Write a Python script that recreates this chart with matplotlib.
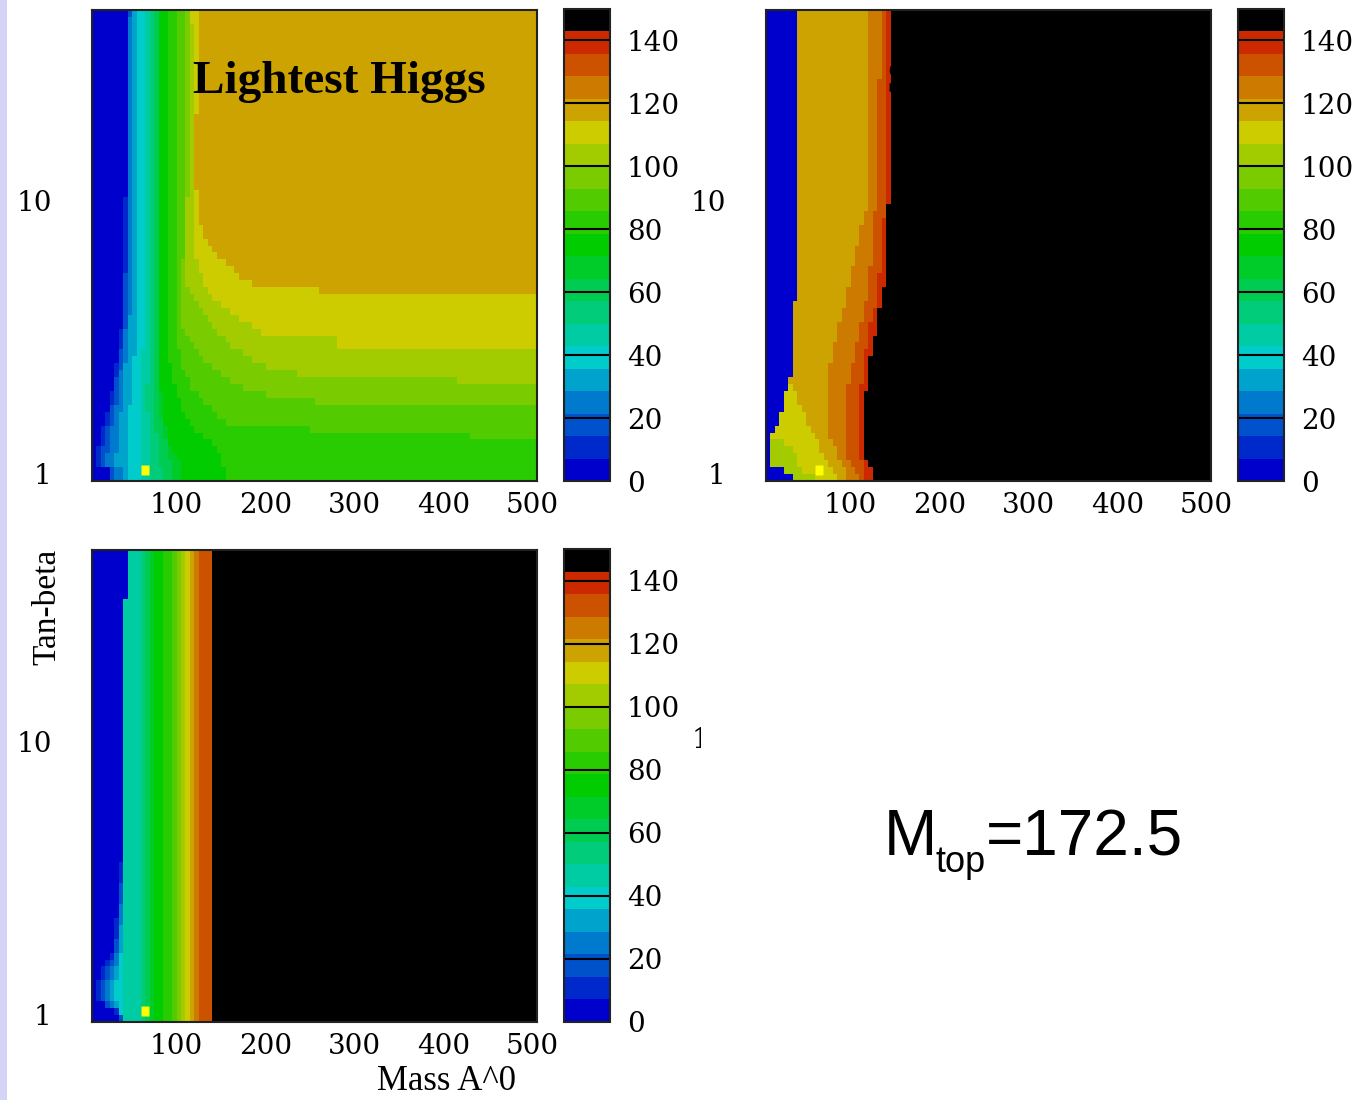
import numpy as np
import matplotlib
matplotlib.use("Agg")
import matplotlib.pyplot as plt
from matplotlib.colors import ListedColormap, BoundaryNorm
from matplotlib.path import Path
from matplotlib.patches import Rectangle
from matplotlib.ticker import NullLocator

plt.rcParams['font.family'] = ['DejaVu Serif']

# ---------------- data ----------------
level_colors = ['#0000cc', '#0029cc', '#0052cc', '#007acc', '#00a3cc', '#00cccc',
                '#00cca3', '#00cc7a', '#00cc52', '#00cc29', '#00cc00', '#29cc00',
                '#52cc00', '#7acc00', '#a3cc00', '#cccc00', '#cca300', '#cc7a00',
                '#cc5200', '#cc2900', '#000000']
mass_min, mass_max = 0.0, 150.0
cbar_ticks = [0, 20, 40, 60, 80, 100, 120, 140]
mA_lo, mA_hi, mA_step = 5, 505, 5
tb_lo, tb_hi, n_tb_rows = 0.94, 50.1, 68
x_ticks = [100, 200, 300, 400, 500]
y_ticks = [1, 10]
marker_mA, marker_tb = 64, 1.034

# boundary of region "mass >= level k" (k = 1, 2, ...), as (mA, tan-beta) points
light_edges = [
    [(45.5, 60), (41.0, 4.34), (35.4, 2.85), (25.3, 1.87), (16.3, 1.41), (9.6, 1.17), (9.6, 1.06), (25.3, 1.02), (25.3, 0.9)],
    [(46.6, 60), (42.1, 4.34), (37.6, 2.85), (28.7, 1.87), (19.7, 1.41), (14.0, 1.06), (27.5, 1.02), (27.5, 0.9)],
    [(47.8, 60), (44.4, 4.34), (41.0, 2.85), (33.1, 1.87), (25.3, 1.41), (19.7, 1.06), (30.9, 1.02), (30.9, 0.9)],
    [(51.1, 60), (48.9, 4.34), (44.4, 2.85), (38.8, 1.87), (34.3, 1.41), (30.9, 1.06), (38.8, 1.02), (38.8, 0.9)],
    [(56.7, 60), (56.7, 4.34), (53.4, 2.85), (47.8, 1.87), (45.5, 1.41), (45.5, 1.06), (47.8, 0.9)],
    [(65.7, 60), (65.7, 4.34), (59.0, 1.87), (60.1, 1.125), (60.1, 0.9)],
    [(70.2, 60), (70.2, 4.34), (66.9, 1.87), (70.2, 1.125), (72.5, 0.9)],
    [(73.6, 60), (74.7, 4.34), (73.6, 1.87), (81.5, 1.125), (87.1, 0.9)],
    [(78.1, 60), (78.1, 4.34), (78.1, 1.87), (90.4, 1.22), (98.3, 0.9)],
    [(81.5, 60), (81.5, 2.21), (84.8, 1.58), (92.7, 1.28), (103.9, 1.08), (109.6, 0.9)],
    [(90.4, 60), (90.4, 2.85), (96.1, 2.15), (109.6, 1.62), (124.2, 1.41), (143.3, 1.26), (151.1, 1.125), (154.5, 0.9)],
    [(100.6, 60), (100.6, 4.34), (99.4, 3.23), (105.1, 2.47), (116.3, 2.08), (127.5, 1.87), (143.3, 1.67), (161.2, 1.49),
     (248.9, 1.46), (248.9, 1.38), (428.6, 1.38), (428.6, 1.30), (600, 1.30)],
    [(110.0, 60), (110.0, 10.1), (106.0, 4.72), (106.2, 3.37), (120.8, 2.85), (137.6, 2.51), (160.0, 2.21), (188.2, 1.98),
     (216.3, 1.90), (253.4, 1.90), (253.4, 1.77), (600, 1.77)],
    [(112.9, 60), (114.0, 15.4), (110.7, 6.61), (111.8, 4.84), (126.4, 3.99), (141.0, 3.37), (163.5, 2.92), (197.2, 2.47),
     (235.4, 2.42), (235.4, 2.30), (414.0, 2.30), (414.0, 2.15), (600, 2.15)],
    [(115.2, 60), (118.5, 38.9), (119.7, 10.1), (118.5, 7.2), (123.0, 5.98), (130.9, 5.04), (142.1, 4.42), (157.9, 3.99),
     (182.6, 3.51), (205.1, 3.20), (280.3, 3.12), (280.3, 2.92), (600, 2.92)],
    [(125.3, 60), (123.0, 32.8), (121.9, 11.9), (125.3, 8.74), (135.4, 6.78), (156.7, 5.93), (169.1, 5.27), (190.4, 4.92),
     (259.0, 4.84), (259.0, 4.56), (600, 4.56)],
]

heavy_blue_edge = [(42.1, 60), (39.9, 32.8), (37.6, 4.34), (35.4, 3.83), (35.4, 2.30), (29.8, 2.21), (28.7, 2.03),
                   (24.2, 1.76), (20.8, 1.54), (15.2, 1.45), (9.6, 1.31), (9.6, 1.08), (15.2, 1.06), (24.2, 1.03),
                   (34.3, 0.98), (34.3, 0.9)]
heavy_yellow_edge = [(42.1, 60), (39.9, 32.8), (37.6, 4.34), (35.4, 3.83), (35.4, 2.30), (29.8, 2.21), (28.7, 2.03),
                     (24.2, 1.76), (20.8, 1.54), (15.2, 1.45), (9.6, 1.33), (26.4, 1.30), (35.4, 1.19), (41.0, 1.10),
                     (43.3, 1.03), (57.9, 0.98), (57.9, 0.9)]
heavy_gold_edge = [(42.1, 60), (39.9, 32.8), (37.6, 4.34), (35.4, 3.83), (35.4, 2.30), (29.8, 2.21), (35.4, 2.06),
                   (41.0, 1.87), (48.9, 1.62), (57.9, 1.41), (63.5, 1.30), (69.1, 1.15), (77.0, 1.06), (88.2, 0.9)]
heavy_orange_edge = [(118.5, 60), (119.7, 23.4), (121.9, 13.0), (119.7, 9.83), (110.7, 7.63), (101.7, 5.73), (93.8, 4.34),
                     (84.8, 3.28), (77.0, 2.47), (73.6, 1.87), (73.6, 1.41), (80.3, 1.28), (86.0, 1.15), (93.8, 1.03),
                     (99.4, 0.9)]
heavy_darkorange_edge = [(133.1, 60), (132.0, 15.4), (128.7, 10.1), (124.2, 6.61), (118.5, 4.34), (110.7, 3.46),
                         (105.1, 2.85), (99.4, 2.21), (93.8, 1.95), (93.8, 1.15), (99.4, 1.11), (108.4, 0.99), (110.7, 0.9)]
heavy_red_edge = [(138.8, 60), (138.8, 10.1), (135.4, 7.2), (132.0, 5.13), (129.8, 4.34), (124.2, 3.76), (118.5, 3.02),
                  (112.9, 2.21), (110.7, 1.98), (110.7, 1.15), (114.0, 1.11), (116.3, 0.9)]
heavy_black_edge = [(146.0, 60), (146.0, 9.83), (142.1, 9.67), (142.1, 7.2), (138.8, 5.13), (133.1, 4.09), (127.5, 3.18),
                    (121.9, 2.62), (117.4, 2.03), (117.4, 1.15), (121.9, 1.08), (127.5, 1.03), (127.5, 0.9)]
heavy_edges = [heavy_blue_edge] * 14 + [heavy_yellow_edge, heavy_gold_edge, heavy_orange_edge,
                                        heavy_darkorange_edge, heavy_red_edge, heavy_black_edge]

charged_edges = [
    [(45.5, 60), (45.5, 34.5), (41, 33), (41, 3.76), (37, 3.5), (33, 2.27), (28, 1.745), (23, 1.56), (17, 1.47),
     (12, 1.28), (10, 1.135), (15, 1.10), (26, 1.06), (36, 0.99), (36, 0.9)],
    [(45.5, 60), (45.5, 34.5), (41, 33), (41, 3.76), (38, 3.2), (35, 2.27), (31, 1.745), (27, 1.56), (22, 1.47),
     (17, 1.28), (14, 1.135), (19, 1.10), (29, 1.06), (37, 0.99), (37, 0.9)],
    [(45.5, 60), (45.5, 34.5), (41, 33), (41, 3.76), (39, 3.2), (37, 2.27), (33, 1.745), (30, 1.56), (26, 1.47),
     (21, 1.28), (19, 1.135), (23, 1.10), (31, 1.06), (38, 0.99), (38, 0.9)],
    [(45.5, 60), (45.5, 34.5), (41, 33), (41, 3.76), (40, 3.2), (38, 2.27), (36, 1.745), (33, 1.56), (30, 1.47),
     (26, 1.28), (24, 1.135), (27, 1.10), (33, 1.06), (39, 0.99), (39, 0.9)],
    [(45.5, 60), (45.5, 34.5), (41, 33), (41, 3.76), (41, 3.2), (39.5, 2.27), (38, 1.745), (36, 1.56), (34, 1.47),
     (31, 1.28), (30, 1.135), (32, 1.10), (35, 1.06), (39.5, 0.99), (39.5, 0.9)],
    [(45.5, 60), (45.5, 34.5), (41, 33), (41, 0.9)],
    [(59.0, 60), (59.0, 0.9)],
    [(64.6, 60), (64.6, 0.9)],
    [(70.2, 60), (70.2, 0.9)],
    [(74.7, 60), (74.7, 0.9)],
    [(84.8, 60), (84.8, 0.9)],
    [(92.7, 60), (92.7, 0.9)],
    [(99.4, 60), (99.4, 0.9)],
    [(105.1, 60), (105.1, 0.9)],
    [(110.7, 60), (110.7, 0.9)],
    [(116.3, 60), (116.3, 0.9)],
    [(121.9, 60), (121.9, 0.9)],
    [(126.4, 60), (126.4, 0.9)],
    [(139.9, 60), (139.9, 0.9)],
    [(139.9, 60), (139.9, 0.9)],
]

# ---------------- grid built from the boundaries ----------------
x_edges = np.arange(mA_lo, mA_hi + 1, mA_step)
y_edges = np.logspace(np.log10(tb_lo), np.log10(tb_hi), n_tb_rows + 1)
xc = 0.5 * (x_edges[:-1] + x_edges[1:])
yc_log = 0.5 * (np.log10(y_edges[:-1]) + np.log10(y_edges[1:]))
XX, YY = np.meshgrid(xc, yc_log)
pts = np.column_stack([XX.ravel(), YY.ravel()])
band = (mass_max - mass_min) / len(level_colors)


def build_grid(edges):
    count = np.zeros(XX.size)
    for edge in edges:
        verts = [(x, np.log10(t)) for x, t in edge]
        verts += [(1000.0, np.log10(edge[-1][1])), (1000.0, np.log10(edge[0][1]))]
        count += Path(verts).contains_points(pts)
    return ((count + 0.5) * band + mass_min).reshape(XX.shape)


cmap = ListedColormap(level_colors)
norm = BoundaryNorm(np.linspace(mass_min, mass_max, len(level_colors) + 1), len(level_colors))

W, H = 1370, 1100


def fr(x0, y0, x1, y1):
    return [x0 / W, 1 - y1 / H, (x1 - x0) / W, (y1 - y0) / H]


fig = plt.figure(figsize=(W / 100, H / 100), dpi=100)

panels = [
    (light_edges, fr(92, 10, 537, 481), fr(564, 9, 610, 481)),
    (heavy_edges, fr(766, 10, 1211, 481), fr(1238, 9, 1284, 481)),
    (charged_edges, fr(92, 550, 537, 1022), fr(564, 549, 610, 1022)),
]
rect_marker = [(-0.35, -0.5), (0.35, -0.5), (0.35, 0.5), (-0.35, 0.5), (-0.35, -0.5)]
axes = []
for edges, apos, cpos in panels:
    ax = fig.add_axes(apos)
    Z = build_grid(edges)
    mesh = ax.pcolormesh(x_edges, y_edges, Z, cmap=cmap, norm=norm, shading='flat')
    ax.set_yscale('log')
    ax.set_xlim(mA_lo, mA_hi)
    ax.set_ylim(tb_lo, tb_hi)
    ax.set_xticks(x_ticks)
    ax.set_xticklabels([str(v) for v in x_ticks])
    ax.set_yticks(y_ticks)
    ax.set_yticklabels([str(v) for v in y_ticks])
    ax.yaxis.set_minor_locator(NullLocator())
    ax.tick_params(axis='both', which='both', length=0, labelsize=20)
    ax.tick_params(axis='x', pad=8)
    ax.tick_params(axis='y', pad=29)
    for s in ax.spines.values():
        s.set_linewidth(1.5)
        s.set_color('#222222')
    ax.plot([marker_mA], [marker_tb], ls='none', marker=rect_marker, ms=7.5,
            color='#ffff00', mec='none', zorder=4)
    cax = fig.add_axes(cpos)
    cb = fig.colorbar(mesh, cax=cax, ticks=cbar_ticks)
    cb.ax.yaxis.set_minor_locator(NullLocator())
    cb.ax.tick_params(which='both', length=0, pad=12, labelsize=20)
    cb.outline.set_linewidth(1.5)
    cb.outline.set_edgecolor('#222222')
    for v in cbar_ticks[1:]:
        cax.axhline(v, color='black', lw=1.5)
    axes.append(ax)

axes[0].text(118.5, 24.9, "Lightest Higgs", family='Liberation Serif', fontweight='bold',
             fontsize=34, ha='left', va='baseline', color='black', zorder=5)
axes[1].text(141.0, 24.9, "Second Higgs", family='Liberation Serif', fontweight='bold',
             fontsize=34, ha='left', va='baseline', color='black', zorder=5)

fig.text(47 / W, 1 - 607 / H, "Tan-beta", rotation=90, ha='center', va='center',
         fontsize=24, family='Liberation Serif')
fig.text(447 / W, 1 - 1081 / H, "Mass A^0", ha='center', va='center',
         fontsize=25, family='Liberation Serif')

# hidden fourth panel: only a sliver of its "10" label shows
fig.text(727 / W, 1 - 741 / H, "10", ha='right', va='center', fontsize=20, zorder=1)
fig.patches.append(Rectangle((701 / W, 0), 1 - 701 / W, 1 - 540 / H, transform=fig.transFigure,
                             facecolor='white', edgecolor='none', zorder=2))
fig.patches.append(Rectangle((0, 0), 7 / W, 1, transform=fig.transFigure,
                             facecolor='#d4d4f6', edgecolor='none', zorder=2))

fig.text(884 / W, 1 - 855 / H, "M", ha='left', va='baseline', fontsize=46,
         family='Liberation Sans', zorder=3)
fig.text(935 / W, 1 - 872 / H, "top", ha='left', va='baseline', fontsize=26,
         family='Liberation Sans', zorder=3)
fig.text(986 / W, 1 - 855 / H, "=172.5", ha='left', va='baseline', fontsize=46,
         family='Liberation Sans', zorder=3)

fig.savefig("out.png", dpi=100)
